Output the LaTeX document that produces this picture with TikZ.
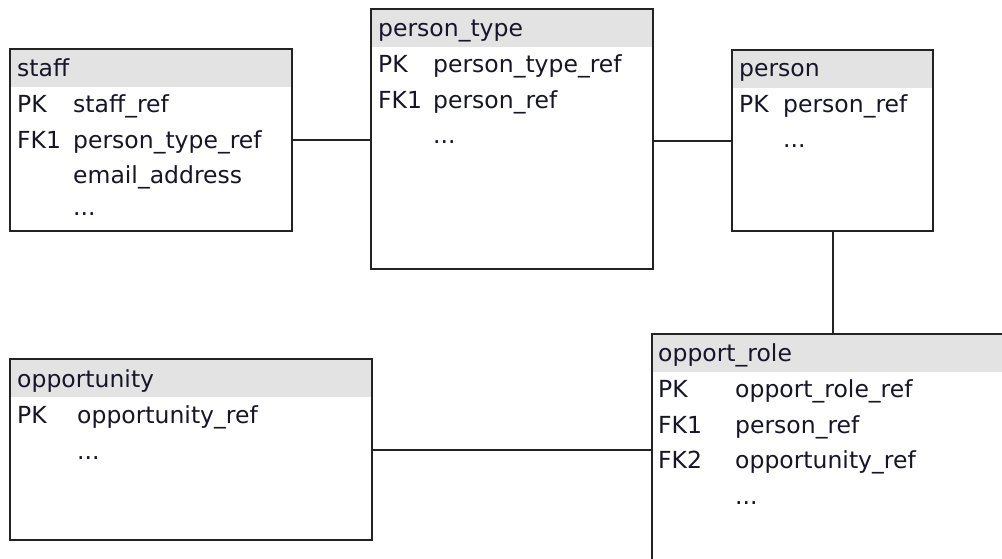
\documentclass[tikz,border=0pt]{standalone}
\usepackage{fontspec}
\setmainfont{DejaVu Sans}
\usetikzlibrary{calc}
\definecolor{hdrgray}{RGB}{227,227,227}
\definecolor{inkcol}{RGB}{22,22,40}
\definecolor{edgecol}{RGB}{35,35,35}
\tikzset{
  tbl/.style={rectangle, draw=none, inner sep=0pt, anchor=north west},
  tblborder/.style={draw=edgecol, line width=2pt},
  hdrfill/.style={fill=hdrgray},
  fieldtext/.style={anchor=base west, inner sep=0pt, text=inkcol,
    font=\fontsize{23.5}{28}\selectfont},
  link/.style={draw=edgecol, line width=2pt}
}
\begin{document}
\begin{tikzpicture}[x=1pt, y=-1pt]
  \useasboundingbox (0,0) rectangle (1002,559);
  \fill[white] (0,0) rectangle (1002,559);
  \clip (0,0) rectangle (1002,559);

  % table frames
  \node[tbl, minimum width=282pt, minimum height=182pt] (staff) at (10,49) {};
  \node[tbl, minimum width=282pt, minimum height=260pt] (ptype) at (371,9) {};
  \node[tbl, minimum width=201pt, minimum height=181pt] (person) at (732,50) {};
  \node[tbl, minimum width=362pt, minimum height=260pt] (opprole) at (652,334) {};
  \node[tbl, minimum width=362pt, minimum height=181pt] (opp) at (10,359) {};

  % header bands and outlines
  \foreach \t in {staff,ptype,person,opprole,opp}{
    \fill[hdrfill] (\t.north west) rectangle ($(\t.north east)+(0,38)$);
    \draw[tblborder] (\t.north west) rectangle (\t.south east);
  }

  % connectors
  \draw[link] (staff.east) -- (staff.east -| ptype.west);
  \draw[link] (ptype.east |- person.west) -- (person.west);
  \draw[link] (person.south) -- (person.south |- opprole.north);
  \draw[link] (opp.east) -- (opp.east -| opprole.west);

  % staff
  \node[fieldtext] (staffT) at (17,77) {staff};
  \node[fieldtext] (staffK1) at (17,113) {PK};
  \node[fieldtext] (staffF1) at (73,113) {staff\_ref};
  \node[fieldtext] (staffK2) at (17,148.5) {FK1};
  \node[fieldtext] (staffF2) at (73,148.5) {person\_type\_ref};
  \node[fieldtext] (staffF3) at (73,184) {email\_address};
  \node[fieldtext] (staffF4) at (73,215) {...};

  % person_type
  \node[fieldtext] (ptypeT) at (378,37) {person\_type};
  \node[fieldtext] (ptypeK1) at (378,73) {PK};
  \node[fieldtext] (ptypeF1) at (433,73) {person\_type\_ref};
  \node[fieldtext] (ptypeK2) at (378,108.5) {FK1};
  \node[fieldtext] (ptypeF2) at (433,108.5) {person\_ref};
  \node[fieldtext] (ptypeF3) at (433,144) {...};

  % person
  \node[fieldtext] (personT) at (739,77) {person};
  \node[fieldtext] (personK1) at (739,113) {PK};
  \node[fieldtext] (personF1) at (783,113) {person\_ref};
  \node[fieldtext] (personF2) at (783,148) {...};

  % opport_role
  \node[fieldtext] (oroleT) at (658,361) {opport\_role};
  \node[fieldtext] (oroleK1) at (658,397) {PK};
  \node[fieldtext] (oroleF1) at (735,397) {opport\_role\_ref};
  \node[fieldtext] (oroleK2) at (658,433) {FK1};
  \node[fieldtext] (oroleF2) at (735,433) {person\_ref};
  \node[fieldtext] (oroleK3) at (658,468.5) {FK2};
  \node[fieldtext] (oroleF3) at (735,468.5) {opportunity\_ref};
  \node[fieldtext] (oroleF4) at (735,504) {...};

  % opportunity
  \node[fieldtext] (oppT) at (17,387) {opportunity};
  \node[fieldtext] (oppK1) at (17,423) {PK};
  \node[fieldtext] (oppF1) at (77,423) {opportunity\_ref};
  \node[fieldtext] (oppF2) at (77,459) {...};
\end{tikzpicture}
\end{document}
